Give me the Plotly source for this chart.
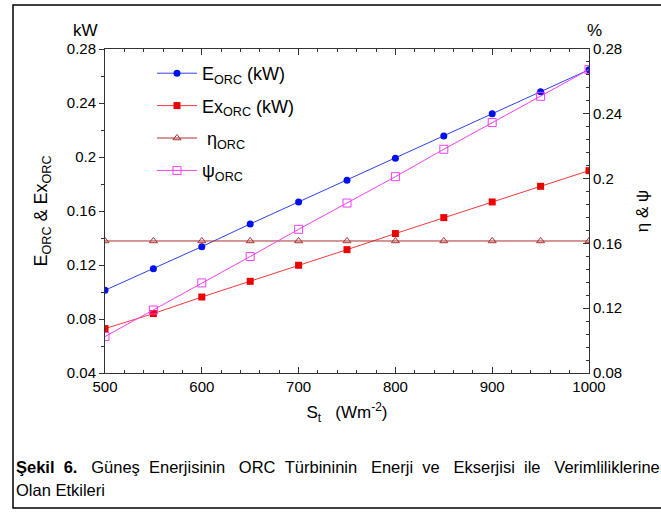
import plotly.graph_objects as go

# ---- data ----
S_t = [500, 550, 600, 650, 700, 750, 800, 850, 900, 950, 1000]
E_orc = [0.1013, 0.1173, 0.1336, 0.1504, 0.1667, 0.1827, 0.1990, 0.2156, 0.2321, 0.2484, 0.2647]
Ex_orc = [0.0729, 0.0840, 0.0963, 0.1079, 0.1198, 0.1314, 0.1433, 0.1551, 0.1667, 0.1783, 0.1899]
eta_orc = [0.1615, 0.1615, 0.1615, 0.1615, 0.1615, 0.1615, 0.1615, 0.1615, 0.1615, 0.1615, 0.1615]
psi_orc = [0.1025, 0.1189, 0.1356, 0.1519, 0.1687, 0.1849, 0.2012, 0.2181, 0.2346, 0.2508, 0.2673]

left_ticks = [0.04, 0.08, 0.12, 0.16, 0.2, 0.24, 0.28]
left_labels = ["0.04", "0.08", "0.12", "0.16", "0.2", "0.24", "0.28"]
right_ticks = [0.08, 0.12, 0.16, 0.2, 0.24, 0.28]
right_labels = ["0.08", "0.12", "0.16", "0.2", "0.24", "0.28"]
x_ticks = [500, 600, 700, 800, 900, 1000]

caption_words = ["Şekil", "6.", "Güneş", "Enerjisinin", "ORC", "Türbininin", "Enerji", "ve",
                 "Ekserjisi", "ile", "Verimliliklerine"]
caption_line2 = "Olan Etkileri"

FONT = "Liberation Sans, Arial, sans-serif"
W, H = 661, 515
ML, MR, MT, MB = 105, 72, 49, 142
PW, PH = W - ML - MR, H - MT - MB

def px(x):
    return (x - ML) / PW

def py(y):
    return (H - MB - y) / PH

fig = go.Figure()
fig.add_trace(go.Scatter(
    x=S_t, y=E_orc, name="E<sub>ORC</sub> (kW)", legendgroup="a",
    mode="lines+markers", line=dict(color="#3040f0", width=1),
    marker=dict(symbol="circle", size=7, color="#0010ee")))
fig.add_trace(go.Scatter(
    x=S_t, y=Ex_orc, name="Ex<sub>ORC</sub> (kW)", legendgroup="b",
    mode="lines+markers", line=dict(color="#f03a3a", width=1),
    marker=dict(symbol="square", size=7, color="#ee0000")))
fig.add_trace(go.Scatter(
    x=S_t, y=eta_orc, name=" η<sub>ORC</sub>", legendgroup="c", yaxis="y2",
    mode="lines+markers", line=dict(color="#a83030", width=1),
    marker=dict(symbol="triangle-up-open", size=7, color="#a83030", line=dict(width=1))))
fig.add_trace(go.Scatter(
    x=S_t, y=psi_orc, name="ψ<sub>ORC</sub>", legendgroup="d", yaxis="y2",
    mode="lines+markers", line=dict(color="#f040f0", width=1),
    marker=dict(symbol="square-open", size=8, color="#f040f0", line=dict(width=1))))

axis_common = dict(showgrid=False, zeroline=False, showline=True,
                   linecolor="#333", linewidth=1, tickcolor="#333",
                   tickfont=dict(family=FONT, size=15, color="black"))

fig.update_layout(
    width=W, height=H,
    margin=dict(l=ML, r=MR, t=MT, b=MB, autoexpand=False),
    paper_bgcolor="white", plot_bgcolor="white",
    font=dict(family=FONT, color="black"),
    xaxis=dict(range=[500, 1000], tickvals=x_ticks, ticks="inside", ticklen=6,
               mirror="ticks",
               minor=dict(dtick=20, ticks="inside", ticklen=3, tickcolor="#333"),
               title=dict(text="S<sub>t</sub>   (Wm<sup>-2</sup>)",
                          font=dict(family=FONT, size=17), standoff=12),
               **axis_common),
    yaxis=dict(range=[0.04, 0.28], tickvals=left_ticks, ticktext=left_labels,
               ticks="outside", ticklen=5,
               minor=dict(dtick=0.02, ticks="outside", ticklen=3, tickcolor="#333"),
               title=dict(text="E<sub>ORC</sub> & Ex<sub>ORC</sub>",
                          font=dict(family=FONT, size=18), standoff=14),
               **axis_common),
    yaxis2=dict(range=[0.08, 0.28], tickvals=right_ticks, ticktext=right_labels,
                overlaying="y", side="right", ticks="inside", ticklen=6,
                minor=dict(dtick=0.008, ticks="inside", ticklen=3, tickcolor="#333"),
                title=dict(text="η & ψ", font=dict(family=FONT, size=17), standoff=14),
                **axis_common),
    legend=dict(x=px(152), y=py(55), xanchor="left", yanchor="top",
                bgcolor="rgba(0,0,0,0)", font=dict(family=FONT, size=18),
                tracegroupgap=6, itemwidth=40),
    showlegend=True,
)

fig.add_annotation(text="kW", x=px(85), y=py(31), xref="paper", yref="paper",
                   xanchor="center", yanchor="middle",
                   showarrow=False, font=dict(family=FONT, size=17))
fig.add_annotation(text="%", x=px(594), y=py(31), xref="paper", yref="paper",
                   xanchor="center", yanchor="middle",
                   showarrow=False, font=dict(family=FONT, size=17))

# justified first caption line: alternate wider / narrower word gaps
line1 = ""
for i, w in enumerate(caption_words):
    if i == 2:
        w = "</b>" + w
    if i > 0:
        line1 += " \u00a0\u00a0" if i % 2 == 0 else " \u00a0"
    line1 += w
line1 = "<b>" + line1
fig.add_annotation(
    text=line1,
    x=px(14), y=py(467), xref="paper", yref="paper", xanchor="left", yanchor="middle",
    showarrow=False, font=dict(family=FONT, size=16.5))
fig.add_annotation(
    text=caption_line2,
    x=px(14), y=py(490), xref="paper", yref="paper", xanchor="left", yanchor="middle",
    showarrow=False, font=dict(family=FONT, size=16.5))

fig.add_shape(type="rect", xref="paper", yref="paper",
              x0=px(13), x1=px(700), y0=py(508), y1=py(5),
              line=dict(color="black", width=1.5), layer="below")

fig.write_html("out.html")
